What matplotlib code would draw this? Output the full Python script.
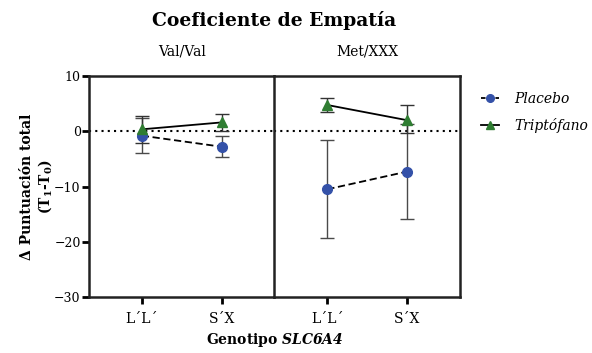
import matplotlib
matplotlib.use('Agg')
import matplotlib.pyplot as plt
import numpy as np

plt.rcParams['font.family'] = 'DejaVu Serif'
plt.rcParams['mathtext.fontset'] = 'dejavuserif'

genotypes = ['L´L´', 'S´X']
panels = ['Val/Val', 'Met/XXX']

# values per panel: [L'L', S'X]
placebo = [[-0.8, -2.8], [-10.5, -7.3]]
placebo_err = [[3.2, 1.9], [8.9, 8.6]]
tripto = [[0.35, 1.6], [4.75, 2.0]]
tripto_err_lo = [[2.5, 1.5], [1.2, 2.3]]
tripto_err_hi = [[2.5, 1.5], [1.2, 2.75]]

blue = '#3451a8'
green = '#2f7d32'
ecol = '#4a4a4a'

fig = plt.figure(figsize=(5.92, 3.53), dpi=100)
fig.patch.set_facecolor('white')
gs = fig.add_gridspec(1, 2, left=0.1503, right=0.777, top=0.7847, bottom=0.1586, wspace=0)
axes = [fig.add_subplot(gs[0, 0]), fig.add_subplot(gs[0, 1])]

xs = np.arange(len(genotypes))
for i, ax in enumerate(axes):
    ax.errorbar(xs, placebo[i], yerr=placebo_err[i], fmt='none', ecolor=ecol,
                elinewidth=1, capsize=5, capthick=1, zorder=2)
    ax.errorbar(xs, tripto[i], yerr=[tripto_err_lo[i], tripto_err_hi[i]], fmt='none',
                ecolor='#333333', elinewidth=1, capsize=5, capthick=1, zorder=2)
    ax.plot(xs, placebo[i], color='black', ls=(0, (4, 2)), lw=1.3, zorder=3)
    ax.plot(xs, tripto[i], color='black', ls='-', lw=1.3, zorder=3)
    ax.plot(xs, placebo[i], 'o', color=blue, ms=7, zorder=4)
    ax.plot(xs, tripto[i], '^', color=green, ms=7, zorder=4)
    ax.axhline(0, color='black', ls=(0, (1, 2)), lw=1.5, zorder=1)
    ax.set_xlim(-0.6625, 1.6625)
    ax.set_ylim(-30, 10)
    ax.set_xticks(xs)
    ax.set_xticklabels(genotypes, fontsize=10)
    ax.tick_params(axis='x', direction='out', length=5, width=2, pad=6)
    ax.set_title(panels[i], fontsize=10, pad=15)
    for s in ax.spines.values():
        s.set_linewidth(1.8)
        s.set_color('#222222')

axes[0].set_yticks([10, 0, -10, -20, -30])
axes[0].tick_params(axis='y', direction='out', length=5, width=2, labelsize=9, pad=1)
axes[1].set_yticks([])
axes[0].spines['right'].set_visible(False)
axes[0].set_ylabel('Δ Puntuación total\n' + r'(T$_{\mathbf{1}}$-T$_{\mathbf{0}}$)',
                   fontsize=10, fontweight='bold', labelpad=0, linespacing=1.2)

fig.suptitle('Coeficiente de Empatía', x=0.4637, y=0.97, fontsize=13.5, fontweight='bold')
fig.text(0.4637, 0.01, r'Genotipo $\mathbfit{SLC6A4}$', ha='center', va='bottom',
         fontsize=10, fontweight='bold')

h1, = axes[1].plot([], [], color='black', ls=(0, (2.5, 1.5)), lw=1.3, marker='o',
                   mfc=blue, mec=blue, ms=5.5)
h2, = axes[1].plot([], [], color='black', ls='-', lw=1.3, marker='^', mfc=green, mec=green, ms=5.5)
fig.legend([h1, h2], ['Placebo', 'Triptófano'], loc='upper left',
           bbox_to_anchor=(0.808, 0.748), frameon=False, handlelength=1.3,
           prop={'style': 'italic', 'size': 10}, labelspacing=0.9, handletextpad=1.1,
           borderaxespad=0, borderpad=0.2)

fig.savefig('out.png', dpi=100, facecolor='white')
